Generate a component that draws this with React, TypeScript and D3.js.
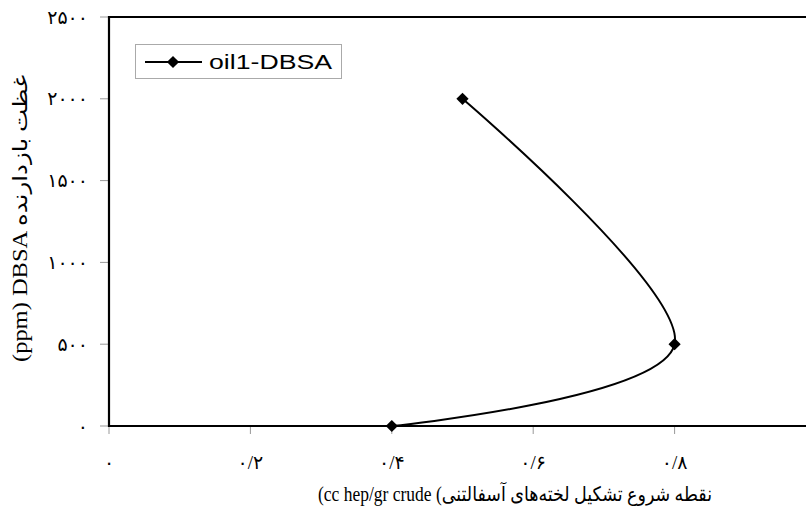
import React from "react";
import * as d3 from "d3";

const seriesName = "oil1-DBSA";
const xValues = [0.4, 0.8, 0.5];
const yValues = [0, 500, 2000];
const xTicks = [0, 0.2, 0.4, 0.6, 0.8, 1];
const xTickLabels = ["۰", "۰/۲", "۰/۴", "۰/۶", "۰/۸", "۱"];
const yTicks = [0, 500, 1000, 1500, 2000, 2500];
const yTickLabels = ["۰", "۵۰۰", "۱۰۰۰", "۱۵۰۰", "۲۰۰۰", "۲۵۰۰"];
const xTitle = "(cc hep/gr crude (" + "نقطه شروع تشکیل لخته‌های آسفالتنی";
const yTitle = "(ppm) DBSA " + "غظت بازدارنده";

const W = 806;
const H = 514;
const L = 109;
const T = 17;
const B = 426;
const R = 816;

export default function App() {
  const x = d3.scaleLinear().domain([0, 1]).range([L, R]);
  const y = d3.scaleLinear().domain([0, 2500]).range([B, T]);
  const pts: [number, number][] = xValues.map((v, i) => [x(v), y(yValues[i])]);
  const line = d3.line().curve(d3.curveCardinal.tension(0))(pts) || "";
  const diamond = d3.symbol().type(d3.symbolDiamond2).size(95)() || "";
  const serif = "'Liberation Serif', 'Times New Roman', 'DejaVu Sans', serif";
  return (
    <svg width={W} height={H} style={{ position: "absolute", left: 0, top: 0, background: "#fff" }}>
      <rect x={0} y={0} width={W} height={H} fill="#fff" />
      {/* ticks */}
      {yTicks.map((t) => (
        <line key={"yt" + t} x1={L - 9} x2={L} y1={y(t)} y2={y(t)} stroke="#999" strokeWidth={1} />
      ))}
      {xTicks.map((t) => (
        <line key={"xt" + t} x1={x(t)} x2={x(t)} y1={B} y2={B + 8} stroke="#999" strokeWidth={1} />
      ))}
      {/* frame */}
      <line x1={L} x2={L} y1={T - 1} y2={B + 1} stroke="#000" strokeWidth={2.2} />
      <line x1={L - 1} x2={W} y1={B} y2={B} stroke="#000" strokeWidth={2} />
      <line x1={L - 1} x2={W} y1={T} y2={T} stroke="#000" strokeWidth={2} />
      {/* tick labels */}
      {yTicks.map((t, i) => (
        <text key={"yl" + t} x={88} y={y(t)} dy="0.35em" textAnchor="end" fontFamily={serif} fontSize={19} fill="#000" direction="ltr">
          {yTickLabels[i]}
        </text>
      ))}
      {xTicks.map((t, i) => (
        <text key={"xl" + t} x={x(t)} y={462} dy="0.35em" textAnchor="middle" fontFamily={serif} fontSize={19} fill="#000" direction="ltr">
          {xTickLabels[i]}
        </text>
      ))}
      {/* titles */}
      <text x={318} y={494} dy="0.35em" textLength={394} lengthAdjust="spacingAndGlyphs" fontFamily={serif} fontSize={20} fill="#000" direction="ltr">
        {xTitle}
      </text>
      <text transform={`translate(20,362) rotate(-90)`} dy="0.35em" textLength={287} lengthAdjust="spacingAndGlyphs" fontFamily={serif} fontSize={20} fill="#000" direction="ltr">
        {yTitle}
      </text>
      {/* series */}
      <path d={line} fill="none" stroke="#000" strokeWidth={2} />
      {pts.map((p, i) => (
        <path key={"m" + i} d={diamond} transform={`translate(${p[0]},${p[1]})`} fill="#000" />
      ))}
      {/* legend */}
      <rect x={135.5} y={44.5} width={206} height={34} fill="#fff" stroke="#aaa" strokeWidth={1} />
      <line x1={145} x2={202} y1={62} y2={62} stroke="#000" strokeWidth={2} />
      <path d={diamond} transform="translate(173,62)" fill="#000" />
      <text x={209} y={62} dy="0.36em" textLength={123} lengthAdjust="spacingAndGlyphs" fontFamily="'Liberation Sans', Arial, sans-serif" fontSize={20} fill="#000">
        {seriesName}
      </text>
    </svg>
  );
}
